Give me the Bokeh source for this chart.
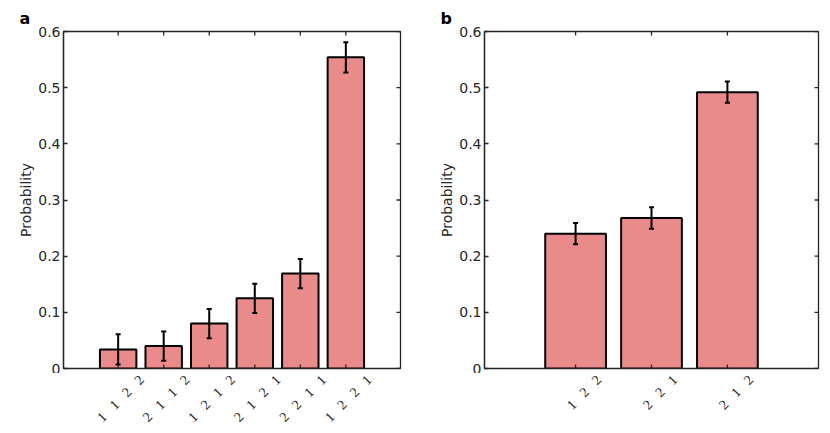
import math
from bokeh.plotting import figure
from bokeh.layouts import row, column
from bokeh.models import (Range1d, FixedTicker, Whisker, TeeHead,
                          ColumnDataSource)
from bokeh.embed import file_html
from bokeh.resources import INLINE

# ---- data ----
cats_a = [["1", "1", "2", "2"], ["2", "1", "1", "2"], ["1", "2", "1", "2"],
          ["2", "1", "2", "1"], ["2", "2", "1", "1"], ["1", "2", "2", "1"]]
prob_a = [0.034, 0.040, 0.080, 0.125, 0.169, 0.554]
err_a = [0.027, 0.026, 0.026, 0.026, 0.026, 0.027]

cats_b = [["1", "2", "2"], ["2", "2", "1"], ["2", "1", "2"]]
prob_b = [0.240, 0.268, 0.492]
err_b = [0.019, 0.019, 0.019]

y_ticks = [0, 0.1, 0.2, 0.3, 0.4, 0.5, 0.6]
y_tick_labels = ["0", "0.1", "0.2", "0.3", "0.4", "0.5", "0.6"]

FONT = "DejaVu Sans"
AX = "#262626"
BAR = "#E98B8B"
SEP = " \u2002"          # wide gap between the digits of a label
LABEL_DX = 23.5          # rotated label end sits right of its tick (px)
LABEL_DY = 9             # and below the axis line (px)
TICK_PX = 4
MAIN_H = 373
MAIN_BOTTOM = 5
LAB_H = 55
YMAX = 0.6


def panel(letter, cats, probs, errs, width, left, right, top, title_standoff):
    n = len(cats)
    xs = list(range(1, n + 1))
    x0, x1 = -0.2, n + 1.2
    frame_w = width - left - right
    frame_h = MAIN_H - top - MAIN_BOTTOM
    dx = TICK_PX * (x1 - x0) / frame_w
    dy = TICK_PX * YMAX / frame_h

    p = figure(width=width, height=MAIN_H, x_range=Range1d(x0, x1),
               y_range=Range1d(0, YMAX), output_backend="svg",
               toolbar_location=None, min_border_left=left,
               min_border_right=right, min_border_top=top,
               min_border_bottom=MAIN_BOTTOM)
    p.grid.visible = False
    p.outline_line_color = AX
    p.outline_line_width = 1.3
    p.xaxis.visible = False

    p.vbar(x=xs, top=probs, width=0.8, fill_color=BAR, line_color="black",
           line_width=2)
    src = ColumnDataSource(dict(x=xs,
                                upper=[v + e for v, e in zip(probs, errs)],
                                lower=[v - e for v, e in zip(probs, errs)]))
    w = Whisker(base="x", upper="upper", lower="lower", source=src,
                line_color="black", line_width=2, level="annotation",
                upper_head=TeeHead(size=5, line_color="black", line_width=2),
                lower_head=TeeHead(size=5, line_color="black", line_width=2))
    p.add_layout(w)

    # inward ticks on bottom, top and right edges of the box
    p.segment(x0=xs, y0=[0] * n, x1=xs, y1=[dy] * n, line_color=AX, line_width=1.3)
    p.segment(x0=xs, y0=[YMAX] * n, x1=xs, y1=[YMAX - dy] * n, line_color=AX, line_width=1.3)
    p.segment(x0=[x1] * len(y_ticks), y0=y_ticks, x1=[x1 - dx] * len(y_ticks),
              y1=y_ticks, line_color=AX, line_width=1.3)

    ya = p.yaxis[0]
    ya.ticker = FixedTicker(ticks=y_ticks)
    ya.axis_line_color = AX
    ya.axis_line_width = 1.3
    ya.major_tick_line_color = AX
    ya.major_tick_line_width = 1.3
    ya.major_tick_in = TICK_PX
    ya.major_tick_out = 0
    ya.minor_tick_line_color = None
    ya.major_label_overrides = {t: s for t, s in zip(y_ticks, y_tick_labels)}
    ya.major_label_standoff = 3
    ya.major_label_text_font = FONT
    ya.major_label_text_font_size = "14px"
    ya.major_label_text_color = AX
    ya.axis_label = "Probability"
    ya.axis_label_text_font = FONT
    ya.axis_label_text_font_size = "14px"
    ya.axis_label_text_font_style = "normal"
    ya.axis_label_text_color = AX
    ya.axis_label_standoff = 1

    p.title.text = letter
    p.title.text_font = FONT
    p.title.text_font_size = "16px"
    p.title.text_font_style = "bold"
    p.title.text_color = "black"
    p.title.align = "left"
    p.title.offset = -44
    p.title.standoff = title_standoff

    # strip under the box holding the rotated category labels
    lf = figure(width=width, height=LAB_H, x_range=p.x_range,
                y_range=Range1d(0, LAB_H), output_backend="svg",
                toolbar_location=None, min_border_left=left,
                min_border_right=right, min_border_top=0, min_border_bottom=0)
    lf.axis.visible = False
    lf.grid.visible = False
    lf.outline_line_color = None
    lf.text(x=xs, y=[LAB_H + MAIN_BOTTOM - LABEL_DY] * n,
            text=[SEP.join(c) for c in cats], angle=math.pi / 4,
            x_offset=LABEL_DX, text_align="right", text_baseline="middle",
            text_font=FONT, text_font_size="14px", text_color=AX)
    return column(p, lf)


pa = panel("a", cats_a, prob_a, err_a, 415, 63, 15, 31, 7)
pb = panel("b", cats_b, prob_b, err_b, 407, 69, 4, 31, 8)

layout = row(pa, pb)
open("out.html", "w").write(file_html(layout, INLINE))
